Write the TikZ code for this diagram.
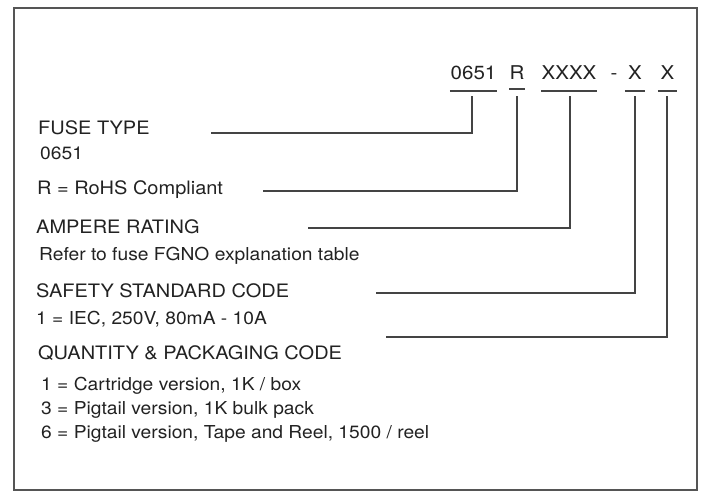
\documentclass[tikz,border=0pt]{standalone}
\usepackage{fontspec}
\setmainfont{TeX Gyre Heros}[FakeStretch=1.08]
\usetikzlibrary{positioning}

\definecolor{framegray}{HTML}{555555}
\definecolor{inkgray}{HTML}{222222}
\definecolor{leadgray}{HTML}{444444}

\begin{document}
\begin{tikzpicture}[x=1pt, y=-1pt,
  every node/.style={inner sep=0pt, text=inkgray},
  head/.style={anchor=base west, font=\fontsize{18.5}{20}\selectfont},
  sub/.style={anchor=base west, font=\fontsize{17.8}{19}\selectfont},
  code/.style={anchor=base, font=\fontsize{19}{21}\selectfont},
  leader/.style={draw=leadgray, line width=1.3pt}]
  \useasboundingbox (0,0) rectangle (702,493);
  \draw[framegray, line width=2.6pt] (14,8) rectangle (697,490);

  \node[code, minimum width=47pt] (c0651) at (473.5,79) {0651};
  \node[code, minimum width=14pt] (cR) at (517,79) {R};
  \node[code, minimum width=52pt] (cX4) at (569,79) {XXXX};
  \node[code] (cDash) at (614,79) {-};
  \node[code, minimum width=20pt] (cXa) at (635,79) {X};
  \node[code, minimum width=19pt] (cXb) at (667.5,79) {X};

  \draw[leader] ([yshift=-12pt]c0651.base west) -- ([yshift=-12pt]c0651.base east);
  \draw[leader] ([yshift=-10pt]cR.base west) -- ([yshift=-10pt]cR.base east);
  \draw[leader] ([yshift=-12pt]cX4.base west) -- ([yshift=-12pt]cX4.base east);
  \draw[leader] ([yshift=-12pt]cXa.base west) -- ([yshift=-12pt]cXa.base east);
  \draw[leader] ([yshift=-12pt]cXb.base west) -- ([yshift=-12pt]cXb.base east);

  \coordinate (d0651) at ([xshift=-1.5pt,yshift=-17pt]c0651.base);
  \coordinate (dR) at ([yshift=-17pt]cR.base);
  \coordinate (dX4) at ([xshift=1pt,yshift=-17pt]cX4.base);
  \coordinate (dXa) at ([yshift=-17pt]cXa.base);
  \coordinate (dXb) at ([xshift=-0.5pt,yshift=-17pt]cXb.base);

  \node[head] (tFuse) at (38,134) {FUSE TYPE};
  \node[sub] (sFuse) at (40,159) {0651};
  \node[head] (tRohs) at (37,194) {R = RoHS Compliant};
  \node[head] (tAmp) at (36,233) {AMPERE RATING};
  \node[sub] (sAmp) at (39,260) {Refer to fuse FGNO explanation table};
  \node[head] (tSafe) at (36,297) {SAFETY STANDARD CODE};
  \node[sub] (sSafe) at (36,324) {1 = IEC, 250V, 80mA - 10A};
  \node[head] (tQty) at (38,359) {QUANTITY \& PACKAGING CODE};
  \node[sub] (sQtyA) at (41,390) {1 = Cartridge version, 1K / box};
  \node[sub] (sQtyB) at (41,414) {3 = Pigtail version, 1K bulk pack};
  \node[sub] (sQtyC) at (41,438) {6 = Pigtail version, Tape and Reel, 1500 / reel};

  \coordinate (lFuse) at (211,133);
  \coordinate (lRohs) at (263,191);
  \coordinate (lAmp) at (308,228);
  \coordinate (lSafe) at (376,293);
  \coordinate (lQty) at (386,337);

  \draw[leader] (lFuse) -| (d0651);
  \draw[leader] (lRohs) -| (dR);
  \draw[leader] (lAmp) -| (dX4);
  \draw[leader] (lSafe) -| (dXa);
  \draw[leader] (lQty) -| (dXb);
\end{tikzpicture}
\end{document}
